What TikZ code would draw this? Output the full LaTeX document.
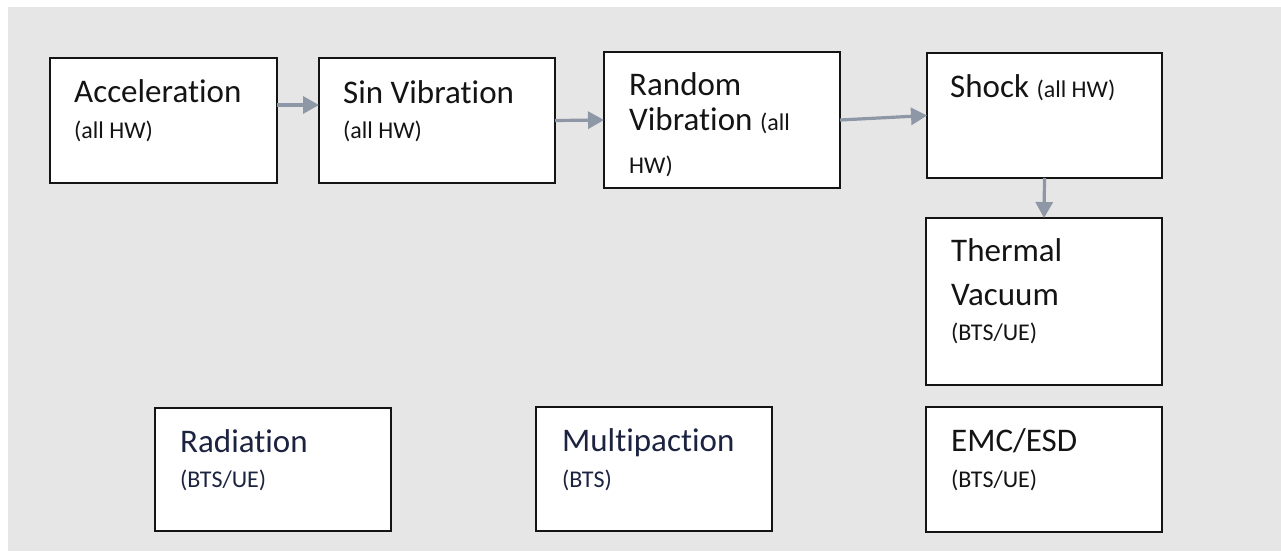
\documentclass[tikz,border=0pt]{standalone}
\usepackage{fontspec}
\setmainfont{Carlito}[Ligatures=NoCommon]
\usetikzlibrary{arrows.meta}
\definecolor{bggray}{HTML}{E6E6E6}
\definecolor{arrowgray}{HTML}{8D97A6}
\definecolor{navy}{HTML}{1C2340}
\definecolor{ink}{HTML}{141414}
\newcommand{\smalltxt}{\fontsize{24}{30}\selectfont}
\begin{document}
\begin{tikzpicture}[x=1pt,y=-1pt,
  box/.style={draw=ink, line width=2pt, fill=white, inner sep=0pt, outer sep=0pt, anchor=north west},
  big/.style={anchor=base west, inner sep=0pt, text=ink, font=\fontsize{33}{40}\selectfont},
  small/.style={anchor=base west, inner sep=0pt, text=ink, font=\smalltxt},
  arr/.style={draw=arrowgray, line width=3.2pt, -{Triangle[length=16pt,width=17pt]}}
]
\useasboundingbox (0,0) rectangle (1281,551);
\fill[bggray] (8,7) rectangle (1281,551);

% boxes
\node[box, minimum width=227pt, minimum height=125pt] (acc) at (50,58) {};
\node[box, minimum width=236pt, minimum height=125pt] (sin) at (319,58) {};
\node[box, minimum width=236pt, minimum height=136pt] (rnd) at (604,52) {};
\node[box, minimum width=235pt, minimum height=125pt] (shk) at (927,53) {};
\node[box, minimum width=236pt, minimum height=167pt] (thv) at (926,218) {};
\node[box, minimum width=236pt, minimum height=123pt] (rad) at (155,408) {};
\node[box, minimum width=236pt, minimum height=124pt] (mpx) at (536,407) {};
\node[box, minimum width=236pt, minimum height=125pt] (emc) at (926,407) {};

% texts
\node[big] (accT1) at (74,102) {Acceleration};
\node[small] (accT2) at (74,138) {(all HW)};
\node[big] (sinT1) at (343,103) {Sin Vibration};
\node[small] (sinT2) at (343,138) {(all HW)};
\node[big] (rndT1) at (629,95) {Random};
\node[big] (rndT2) at (629,130) {Vibration {\smalltxt(all}};
\node[small] (rndT3) at (629,173) {HW)};
\node[big] (shkT1) at (950,97) {Shock {\smalltxt(all HW)}};
\node[big] (thvT1) at (951,261) {Thermal};
\node[big] (thvT2) at (951,305) {Vacuum};
\node[small] (thvT3) at (951,340) {(BTS/UE)};
\node[big, text=navy] (radT1) at (180,452) {Radiation};
\node[small, text=navy] (radT2) at (180,487) {(BTS/UE)};
\node[big, text=navy] (mpxT1) at (562,451) {Multipaction};
\node[small, text=navy] (mpxT2) at (562,487) {(BTS)};
\node[big] (emcT1) at (951,451) {EMC/ESD};
\node[small] (emcT2) at (951,487) {(BTS/UE)};

% arrows
\draw[arr] ([yshift=15.5pt]acc.east) -- ([yshift=15.5pt]sin.west);
\draw[arr] (sin.east) -- (rnd.west);
\draw[arr] (rnd.east) -- (shk.west);
\draw[arr] (shk.south) -- (thv.north);
\end{tikzpicture}
\end{document}
